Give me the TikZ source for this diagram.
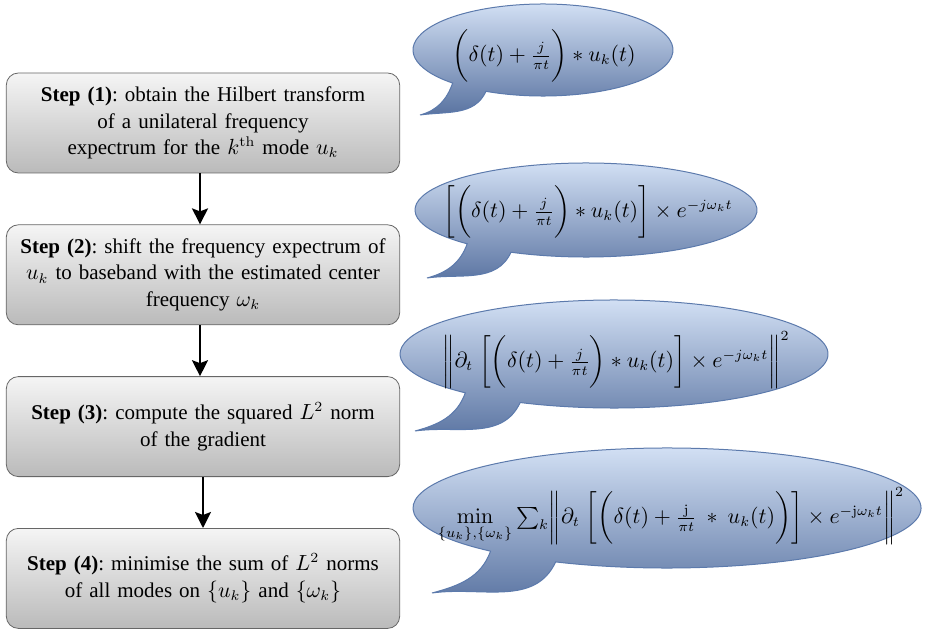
\documentclass[tikz,border=0pt]{standalone}
\usepackage[no-math]{fontspec}
\setmainfont{Liberation Serif}
\usepackage{amsmath}
\usepackage{xcolor}
\usepackage{tikz}
\usetikzlibrary{arrows.meta, positioning}
\frenchspacing

\definecolor{bubbletop}{RGB}{216,229,248}
\definecolor{bubblebottom}{RGB}{88,114,160}
\definecolor{bubbleline}{RGB}{92,122,172}

% center, x radius, y radius, tip, name
\newcommand{\speechbubble}[5]{%
  \path[bubble] (#1) ++(244:#2 and #3) coordinate (#5-r)
    arc[start angle=244, end angle=586, x radius=#2, y radius=#3]
    to[out=250, in=15] (#4) to[out=8, in=245] (#5-r) -- cycle;}

\begin{document}
\begin{tikzpicture}[
  x=0.5pt, y=0.5pt,
  node distance=25.5pt,
  stepbox/.style={rectangle, draw=black!60, top color=black!4, bottom color=black!27, rounded corners=6pt, minimum width=195pt, minimum height=50pt, text width=190pt, align=center, font=\fontsize{10.5}{13.25}\selectfont},
  bubble/.style={draw=bubbleline, line width=0.5pt, top color=bubbletop, bottom color=bubblebottom},
  formula/.style={inner sep=0pt, font=\fontsize{10.5}{13}\selectfont},
  arrow/.style={line width=1pt, -{Stealth[length=8pt, width=8pt, inset=1.5pt]}}
]
\useasboundingbox (0,0) rectangle (933,628);

% Steps
\node (hilbert) [stepbox] at (203,505) {\textbf{Step (1)}: obtain the Hilbert transform\\ of a unilateral frequency\\ expectrum for the $k^{\mathrm{th}}$ mode $u_k$};
\node (shift) [stepbox, below=of hilbert] {\textbf{Step (2)}: shift the frequency expectrum of\\ $u_k$ to baseband with the estimated center\\ frequency $\omega_k$};
\node (norm) [stepbox, below=of shift] {\textbf{Step (3)}: compute the squared $L^2$ norm\\ of the gradient};
\node (minimise) [stepbox, below=of norm] {\textbf{Step (4)}: minimise the sum of $L^2$ norms\\ of all modes on $\{u_k\}$ and $\{\omega_k\}$};

\draw [arrow] ([xshift=-1.5pt]hilbert.south) -- ([xshift=-1.5pt]shift.north);
\draw [arrow] ([xshift=-1.5pt]shift.south) -- ([xshift=-1.5pt]norm.north);
\draw [arrow] (norm) -- (minimise);

% Speech bubbles
\speechbubble{543,578}{130}{46}{420,513}{hb}
\speechbubble{586,418}{171}{47}{427,350}{sb}
\speechbubble{614,274}{214}{54}{415,197}{nb}
\speechbubble{667,120}{254}{60}{432,35}{mb}

\node (hilbert_eq) [formula] at (544,572) {$\biggl(\delta(t)+\frac{j}{\pi t}\biggr)*u_k(t)$};
\node (shift_eq) [formula] at (588,416) {$\biggl[\biggl(\delta(t)+\frac{j}{\pi t}\biggr)*u_k(t)\biggr]\times e^{-j\omega_k t}$};
\node (norm_eq) [formula] at (616,268) {$\biggl\|\partial_t\;\biggl[\biggl(\delta(t)+\frac{j}{\pi t}\biggr)*u_k(t)\biggr]\times e^{-j\omega_k t}\biggr\|^2$};
\node (minimise_eq) [formula] at (671,112) {$\min\limits_{\{u_k\},\{\omega_k\}}\sum_k\biggl\|\partial_t\;\biggl[\biggl(\delta(t)+\frac{\mathrm{j}}{\pi t}\ *\ u_k(t)\biggr)\biggr]\times e^{-\mathrm{j}\omega_k t}\biggr\|^2$};

\end{tikzpicture}
\end{document}
